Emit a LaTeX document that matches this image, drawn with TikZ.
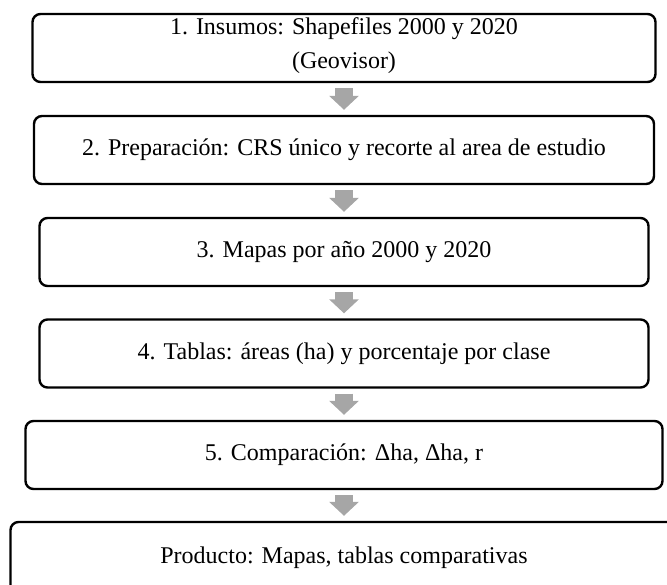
\documentclass[tikz,border=0pt]{standalone}
\usepackage{fontspec}
\setmainfont{Liberation Serif}
\usetikzlibrary{arrows.meta}

\tikzset{
  stepbox/.style={draw, line width=1.2pt, rounded corners=4pt, align=center,
    font=\fontsize{12}{15}\selectfont, minimum height=34pt, inner sep=0pt},
  flecha/.style={draw=gray!70, line width=9pt, -{Triangle[width=14.5pt,length=7pt]},
    shorten <=2.5pt, shorten >=2.5pt}
}

\begin{document}
\begin{tikzpicture}[x=0.5pt, y=-0.5pt]
    \useasboundingbox (0,0) rectangle (667,584);
    \clip (0,0) rectangle (667,584);
    % pasos del flujo
    \node[stepbox, minimum width=311.5pt] (insumos) at (344,48) {1. Insumos: Shapefiles 2000 y 2020\\[2pt](Geovisor)\rule[-5pt]{0pt}{1pt}};
    \node[stepbox, minimum width=310pt] (prep) at (344,150) {2. Preparación: CRS único y recorte al area de estudio};
    \node[stepbox, minimum width=304.5pt] (mapas) at (344,252) {3. Mapas por año 2000 y 2020};
    \node[stepbox, minimum width=304.5pt] (tablas) at (344,353.5) {4. Tablas: áreas (ha) y porcentaje por clase};
    \node[stepbox, minimum width=318.5pt] (comp) at (344,455) {5. Comparación: Δha, Δha, r};
    \node[stepbox, minimum width=333.5pt, minimum height=36pt] (producto) at (344,558) {\raisebox{3pt}{Producto: Mapas, tablas comparativas}};
    % flechas
    \draw[flecha] (insumos) -- (prep);
    \draw[flecha] (prep) -- (mapas);
    \draw[flecha] (mapas) -- (tablas);
    \draw[flecha] (tablas) -- (comp);
    \draw[flecha] (comp) -- (producto);
\end{tikzpicture}
\end{document}
